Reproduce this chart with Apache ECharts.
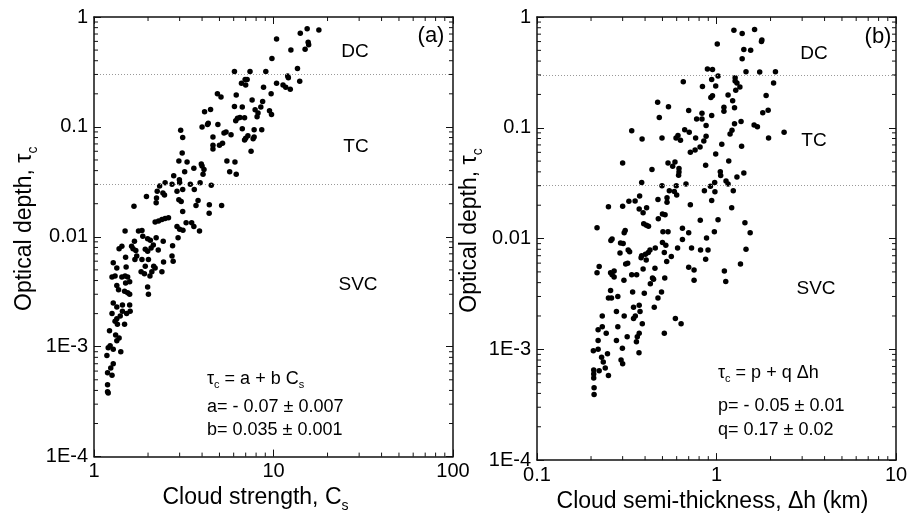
<!DOCTYPE html>
<html><head><meta charset="utf-8">
<script src="https://cdn.jsdelivr.net/npm/echarts@6/dist/echarts.min.js"></script>
<style>html,body{margin:0;padding:0;background:#fff}#c{width:911px;height:518px}</style>
</head><body><div id="c"></div>
<script>
// Panel (a): [cloud strength Cs, optical depth tau_c]
const panelAPoints = [
[17.9,0.76],[15.4,0.78],[14.1,0.71],[15.6,0.59],[15.7,0.56],[15.0,0.51],[10.4,0.63],[12.5,0.50],[9.8,0.42],[13.6,0.34],
[6.06,0.32],[7.4,0.32],[9.06,0.32],[12.0,0.29],[12.1,0.28],[6.95,0.27],[7.13,0.27],[6.63,0.25],[7.0,0.24],[10.4,0.25],
[11.3,0.24],[11.7,0.23],[14.0,0.26],[12.4,0.22],[8.8,0.23],[9.7,0.20],[6.2,0.195],[4.87,0.2],[5.1,0.187],[7.6,0.176],
[8.7,0.17],[6.06,0.153],[6.7,0.152],[8.5,0.152],[7.9,0.143],[9.5,0.14],[9.75,0.13],[8.2,0.134],[8.1,0.124],[4.46,0.144],
[4.13,0.137],[4.33,0.108],[4.29,0.105],[4.0,0.1],[4.9,0.105],[6.16,0.114],[6.3,0.12],[6.5,0.122],[6.9,0.121],[6.7,0.096],
[7.8,0.094],[8.6,0.094],[5.44,0.09],[5.3,0.088],[5.8,0.085],[7.2,0.083],[7.0,0.079],[6.9,0.076],[7.8,0.081],[7.7,0.078],
[7.5,0.06],[4.6,0.081],[5.2,0.071],[5.0,0.068],[4.6,0.068],[4.6,0.063],[3.04,0.093],[3.12,0.08],[3.1,0.058],[2.97,0.049],
[3.3,0.048],[3.96,0.046],[4.0,0.044],[4.1,0.041],[4.05,0.037],[3.6,0.042],[3.2,0.039],[5.5,0.049],[6.1,0.048],[5.7,0.039],
[6.2,0.037],[2.78,0.036],[2.99,0.033],[3.0,0.031],[2.72,0.030],[2.49,0.031],[2.32,0.029],[2.25,0.026],[2.42,0.025],[2.47,0.024],
[2.9,0.026],[3.12,0.027],[3.44,0.030],[3.62,0.027],[3.9,0.031],[4.5,0.0295],[1.96,0.0233],[2.23,0.0225],[2.22,0.0204],[2.97,0.0217],
[3.06,0.021],[3.8,0.0214],[3.7,0.0193],[4.39,0.0196],[5.14,0.0193],[1.67,0.019],
[4.38,0.0164],[3.12,0.017],[3.26,0.0134],[2.19,0.0136],[2.29,0.0139],[2.39,0.0144],[2.49,0.0147],[2.6,0.0149],[3.5,0.0134],[3.6,0.0124],
[2.9,0.0124],[3.0,0.0117],[3.13,0.0115],[3.87,0.0113],[2.94,0.0098],[1.49,0.0113],[1.77,0.0113],[1.85,0.0114],[1.87,0.0101],[1.99,0.0096],
[2.06,0.0093],[2.22,0.0098],[1.68,0.0091],[2.43,0.0091],[1.43,0.0082],[1.38,0.0078],[1.62,0.0082],[1.65,0.0078],[1.71,0.0075],[1.93,0.0077],
[1.99,0.0074],[2.08,0.0079],[2.14,0.0084],[2.28,0.0076],[2.74,0.0083],[1.73,0.0067],[1.5,0.0065],[1.28,0.0058],[1.34,0.0052],[1.85,0.0062],
[1.69,0.0062],[2.01,0.0062],[2.15,0.0054],[2.19,0.0052],[2.44,0.0059],[2.72,0.0067],[2.76,0.006],[1.51,0.0053],[1.93,0.0054],[1.83,0.0048],
[1.91,0.0046],[2.1,0.0048],[2.05,0.0044],[2.39,0.0048],[1.26,0.0043],[1.31,0.0044],[1.43,0.0043],[1.49,0.0044],[1.54,0.0043],[1.58,0.0039],
[1.5,0.0038],[1.34,0.0036],[1.37,0.0033],[1.48,0.0032],[1.54,0.0031],[1.58,0.003],[1.99,0.0035],[2.01,0.003],[1.28,0.0025],[1.34,0.0023],
[1.44,0.0024],[1.58,0.0024],[1.59,0.0021],[1.52,0.002],[1.44,0.0021],[1.4,0.0019],[1.26,0.002],[1.34,0.0018],[1.31,0.0017],[1.35,0.0016],
[1.48,0.0016],[1.22,0.0014],[1.32,0.00128],[1.38,0.0012],[1.34,0.00113],[1.23,0.00102],[1.2,0.00098],[1.28,0.00095],[1.41,0.0009],[1.18,0.00083],
[1.28,0.0007],[1.24,0.00064],[1.19,0.00058],[1.26,0.00055],[1.19,0.00045],[1.19,0.00039],[1.2,0.00038]
];

// Panel (b): [cloud semi-thickness dh (km), optical depth tau_c]
const panelBPoints = [
[1.25,0.76],[1.39,0.71],[1.63,0.77],[1.79,0.62],[1.78,0.60],[1.01,0.57],[1.42,0.51],[1.55,0.50],[1.39,0.42],[0.89,0.34],
[0.95,0.335],[1.02,0.294],[1.46,0.32],[1.74,0.318],[2.13,0.32],[1.27,0.283],[1.27,0.264],[1.3,0.254],[0.94,0.273],[0.653,0.26],
[2.08,0.254],[0.99,0.238],[1.35,0.233],[0.835,0.236],[1.28,0.218],[1.16,0.198],[1.89,0.196],[0.95,0.195],[0.93,0.188],[1.23,0.175],
[0.47,0.17],[0.54,0.155],[1.1,0.153],[1.1,0.141],[1.26,0.152],[0.70,0.143],[0.83,0.135],[0.94,0.129],[1.94,0.144],[1.81,0.137],
[0.48,0.124],[0.775,0.12],[0.83,0.12],[0.875,0.105],[1.26,0.109],[1.37,0.114],[1.62,0.106],[1.69,0.102],[0.337,0.094],[0.665,0.096],
[0.705,0.091],[1.22,0.095],[1.19,0.088],[2.38,0.091],[0.385,0.079],[0.497,0.081],[0.61,0.085],[0.595,0.081],[0.63,0.077],[0.765,0.081],
[0.875,0.084],[0.85,0.076],[1.95,0.081],[1.07,0.071],[0.81,0.067],[0.76,0.063],[0.715,0.06],[1.38,0.068],[0.99,0.058],[1.17,0.05],
[0.30,0.048],[0.537,0.048],[0.57,0.045],[0.587,0.049],[0.618,0.043],[0.618,0.0398],[0.615,0.0372],[0.87,0.046],[0.437,0.042],[1.05,0.040],
[1.055,0.037],[1.42,0.039],[1.3,0.036],[1.13,0.033],[1.16,0.031],[0.383,0.032],[0.676,0.031],[0.497,0.030],[0.597,0.030],[0.977,0.032],
[0.925,0.0297],[0.546,0.027],[0.582,0.0266],[0.60,0.0247],[0.373,0.0242],[0.856,0.027],[0.98,0.0264],[1.24,0.027],[0.53,0.0234],[0.53,0.0213],
[0.472,0.0225],[0.352,0.0218],[0.325,0.0217],[0.94,0.022],[0.715,0.0202],[0.25,0.0194],[0.30,0.0196],[0.408,0.019],[1.215,0.019],
[0.371,0.0185],[0.39,0.0171],[0.50,0.0167],[0.517,0.0164],[0.474,0.0151],[0.216,0.0125],[0.812,0.0146],[1.02,0.0148],[1.44,0.0139],[1.54,0.0113],
[0.393,0.0136],[0.407,0.0132],[0.418,0.0129],[0.646,0.0124],[0.70,0.0113],[0.503,0.0115],[0.537,0.0115],[0.973,0.0115],[0.31,0.0118],[0.306,0.0113],
[0.262,0.0099],[0.258,0.0096],[0.292,0.0091],[0.302,0.009],[0.29,0.0074],[0.322,0.0079],[0.328,0.0076],[0.50,0.0092],[0.522,0.0087],[0.646,0.0098],
[0.88,0.0101],[0.456,0.0082],[0.426,0.0079],[0.417,0.0075],[0.512,0.0075],[0.607,0.0082],[0.726,0.0082],[0.815,0.0079],[0.897,0.0079],[1.46,0.008],
[0.56,0.0069],[0.528,0.0062],[0.383,0.007],[0.402,0.0072],[0.406,0.0064],[0.38,0.0067],[0.312,0.0059],[0.32,0.006],[0.87,0.0065],[1.36,0.0059],
[0.222,0.0056],[0.216,0.0049],[0.269,0.0051],[0.257,0.0049],[0.262,0.0047],[0.269,0.0045],[0.305,0.0042],[0.337,0.0047],[0.359,0.0047],[0.39,0.0053],
[0.44,0.0044],[0.446,0.0043],[0.454,0.0054],[0.515,0.0044],[0.70,0.0055],[0.75,0.0052],[0.75,0.0042],[1.106,0.0051],[1.126,0.0041],[0.428,0.0039],
[0.494,0.0033],[0.257,0.0034],[0.25,0.0029],[0.26,0.0029],[0.282,0.003],[0.341,0.0033],[0.396,0.0032],[0.472,0.0029],[0.45,0.0024],[0.345,0.0024],
[0.371,0.0025],[0.375,0.0022],[0.277,0.0022],[0.306,0.002],[0.345,0.0019],[0.353,0.002],[0.231,0.002],[0.59,0.0019],[0.635,0.0017],[0.386,0.0017],
[0.282,0.0016],[0.231,0.0016],[0.219,0.0015],[0.243,0.0014],[0.371,0.0014],[0.362,0.0013],[0.512,0.0014],[0.318,0.0013],[0.277,0.0012],[0.219,0.0012],
[0.299,0.00102],[0.358,0.00117],[0.247,0.00091],[0.229,0.00085],[0.219,0.001],[0.206,0.00097],[0.37,0.00093],[0.294,0.0008],[0.234,0.00077],[0.207,0.00065],
[0.222,0.00064],[0.24,0.00068],[0.30,0.00074],[0.25,0.00058],[0.207,0.0006],[0.207,0.00055],[0.208,0.00045],[0.208,0.00039]
];

// Regime boundaries (tau_c): DC / TC / SVC
const regimeBounds = [0.3, 0.03];

// Axis ranges and tick labels
const xRangeA = [1, 100];
const xTicksA = [1, 10, 100];
const xTickLabelsA = ['1', '10', '100'];
const xRangeB = [0.1, 10];
const xTicksB = [0.1, 1, 10];
const xTickLabelsB = ['0.1', '1', '10'];
const yRange = [1e-4, 1];
const yTicks = [1e-4, 1e-3, 0.01, 0.1, 1];
const yTickLabels = ['1E-4', '1E-3', '0.01', '0.1', '1'];
const minorMultipliers = [2, 3, 4, 5, 6, 7, 8, 9];

function minorValues(range) {
  const out = [];
  for (let d = Math.round(Math.log10(range[0])); d < Math.round(Math.log10(range[1])); d++) {
    minorMultipliers.forEach(m => out.push(m * Math.pow(10, d)));
  }
  return out;
}
function labelFor(ticks, labels) {
  return function (v) {
    for (let i = 0; i < ticks.length; i++) {
      if (Math.abs(Math.log10(v) - Math.log10(ticks[i])) < 1e-6) return labels[i];
    }
    return '';
  };
}

const FONT = "'Liberation Sans', Arial, Helvetica, sans-serif";
const AXC = '#111';

function xAxisDef(gridIndex, range, ticks, labels, position, name, extra) {
  const primary = position === 'bottom';
  return Object.assign({
    type: 'log', logBase: 10, gridIndex, position, min: range[0], max: range[1],
    axisLine: { show: true, lineStyle: { color: AXC, width: 1.5 } },
    axisTick: { show: true, inside: true, length: 7, lineStyle: { color: AXC, width: 1 } },
    axisLabel: { show: primary, formatter: labelFor(ticks, labels), color: '#000', fontSize: 20, fontFamily: FONT, margin: 5 },
    splitLine: { show: false },
    name: primary ? name : '', nameLocation: 'middle'
  }, extra || {});
}
function yAxisDef(gridIndex, position, name, extra) {
  const primary = position === 'left';
  return Object.assign({
    type: 'log', logBase: 10, gridIndex, position, min: yRange[0], max: yRange[1],
    axisLine: { show: true, lineStyle: { color: AXC, width: 1.5 } },
    axisTick: { show: true, inside: true, length: 7, lineStyle: { color: AXC, width: 1 } },
    axisLabel: { show: primary, formatter: labelFor(yTicks, yTickLabels), color: '#000', fontSize: 20, fontFamily: FONT, margin: 6 },
    splitLine: { show: false },
    name: primary ? name : '', nameLocation: 'middle'
  }, extra || {});
}

const titleRich = {
  n: { fontSize: 23, fontFamily: FONT, color: '#000', lineHeight: 30 },
  s: { fontSize: 14, fontFamily: FONT, color: '#000', lineHeight: 12, verticalAlign: 'bottom' }
};

function minorTickSeries(axisIdx, values, dir, refOther) {
  return {
    type: 'custom', xAxisIndex: axisIdx, yAxisIndex: axisIdx, silent: true, z: 10, clip: false,
    data: values.map(v => dir === 'x' ? [v, refOther] : [refOther, v]),
    renderItem: function (params, api) {
      const cs = params.coordSys;
      const p = api.coord([api.value(0), api.value(1)]);
      const L = 4;
      const st = { stroke: AXC, lineWidth: 1 };
      if (dir === 'x') {
        const b = cs.y + cs.height, t = cs.y;
        return { type: 'group', children: [
          { type: 'line', shape: { x1: p[0], y1: b, x2: p[0], y2: b - L }, style: st },
          { type: 'line', shape: { x1: p[0], y1: t, x2: p[0], y2: t + L }, style: st }
        ] };
      } else {
        const l = cs.x, r = cs.x + cs.width;
        return { type: 'group', children: [
          { type: 'line', shape: { x1: l, y1: p[1], x2: l + L, y2: p[1] }, style: st },
          { type: 'line', shape: { x1: r, y1: p[1], x2: r - L, y2: p[1] }, style: st }
        ] };
      }
    }
  };
}

function scatterSeries(idx, data) {
  return {
    type: 'scatter', xAxisIndex: idx, yAxisIndex: idx, data: data,
    symbol: 'circle', symbolSize: 5.5, itemStyle: { color: '#000', opacity: 1 }, z: 3,
    markLine: {
      silent: true, symbol: ['none', 'none'], label: { show: false },
      lineStyle: { type: [1, 2], color: '#999', width: 1 },
      data: regimeBounds.map(v => ({ yAxis: v }))
    }
  };
}

function txt(x, y, text, size, align, rich) {
  return {
    type: 'text', x: x, y: y, silent: true,
    style: { text: text, fontSize: size, fontFamily: FONT, fill: '#000', align: align || 'center', verticalAlign: 'middle', rich: rich }
  };
}
const eqRich = {
  m: { fontSize: 18, fontFamily: FONT, color: '#000', lineHeight: 22 },
  s: { fontSize: 11, fontFamily: FONT, color: '#000', lineHeight: 10, verticalAlign: 'bottom' }
};

const chart = echarts.init(document.getElementById('c'), null, { renderer: 'canvas' });
chart.setOption({
  animation: false,
  backgroundColor: '#fff',
  grid: [
    { left: 94, top: 17, width: 359, height: 446 },
    { left: 537, top: 17, width: 359, height: 446 }
  ],
  xAxis: [
    xAxisDef(0, xRangeA, xTicksA, xTickLabelsA, 'bottom', '{n|Cloud strength, C}{s|s}',
      { nameGap: 24, nameTextStyle: { rich: titleRich, padding: [0, 36, 0, 0] } }),
    xAxisDef(1, xRangeB, xTicksB, xTickLabelsB, 'bottom', '{n|Cloud semi-thickness, Δh (km)}',
      { nameGap: 24, nameTextStyle: { rich: titleRich, padding: [0, 8, 0, 0] } }),
    xAxisDef(0, xRangeA, xTicksA, xTickLabelsA, 'top', ''),
    xAxisDef(1, xRangeB, xTicksB, xTickLabelsB, 'top', '')
  ],
  yAxis: [
    yAxisDef(0, 'left', '{n|Optical depth, τ}{s|c}', { nameGap: 54, nameTextStyle: { rich: titleRich, padding: [0, 0, 0, 16] } }),
    yAxisDef(1, 'left', '{n|Optical depth, τ}{s|c}', { nameGap: 44, nameTextStyle: { rich: titleRich, padding: [0, 0, 0, 16] } }),
    yAxisDef(0, 'right', ''),
    yAxisDef(1, 'right', '')
  ],
  series: [
    scatterSeries(0, panelAPoints),
    scatterSeries(1, panelBPoints),
    minorTickSeries(0, minorValues(xRangeA), 'x', 0.01),
    minorTickSeries(0, minorValues(yRange), 'y', 2),
    minorTickSeries(1, minorValues(xRangeB), 'x', 0.01),
    minorTickSeries(1, minorValues(yRange), 'y', 1)
  ],
  graphic: [
    txt(431, 36, '(a)', 22),
    txt(355, 52, 'DC', 19),
    txt(356, 147, 'TC', 19),
    txt(358, 285, 'SVC', 19),
    txt(207, 379, '{m|τ}{s|c}{m| = a + b C}{s|s}', 18, 'left', eqRich),
    txt(207, 407, 'a= - 0.07 ± 0.007', 18, 'left'),
    txt(207, 430, 'b= 0.035 ± 0.001', 18, 'left'),
    txt(878, 37, '(b)', 22),
    txt(814, 54, 'DC', 19),
    txt(814, 141, 'TC', 19),
    txt(816, 289, 'SVC', 19),
    txt(718, 373, '{m|τ}{s|c}{m| = p + q Δh}', 18, 'left', eqRich),
    txt(718, 406, 'p= - 0.05 ± 0.01', 18, 'left'),
    txt(718, 430, 'q= 0.17 ± 0.02', 18, 'left')
  ]
});
</script></body></html>
